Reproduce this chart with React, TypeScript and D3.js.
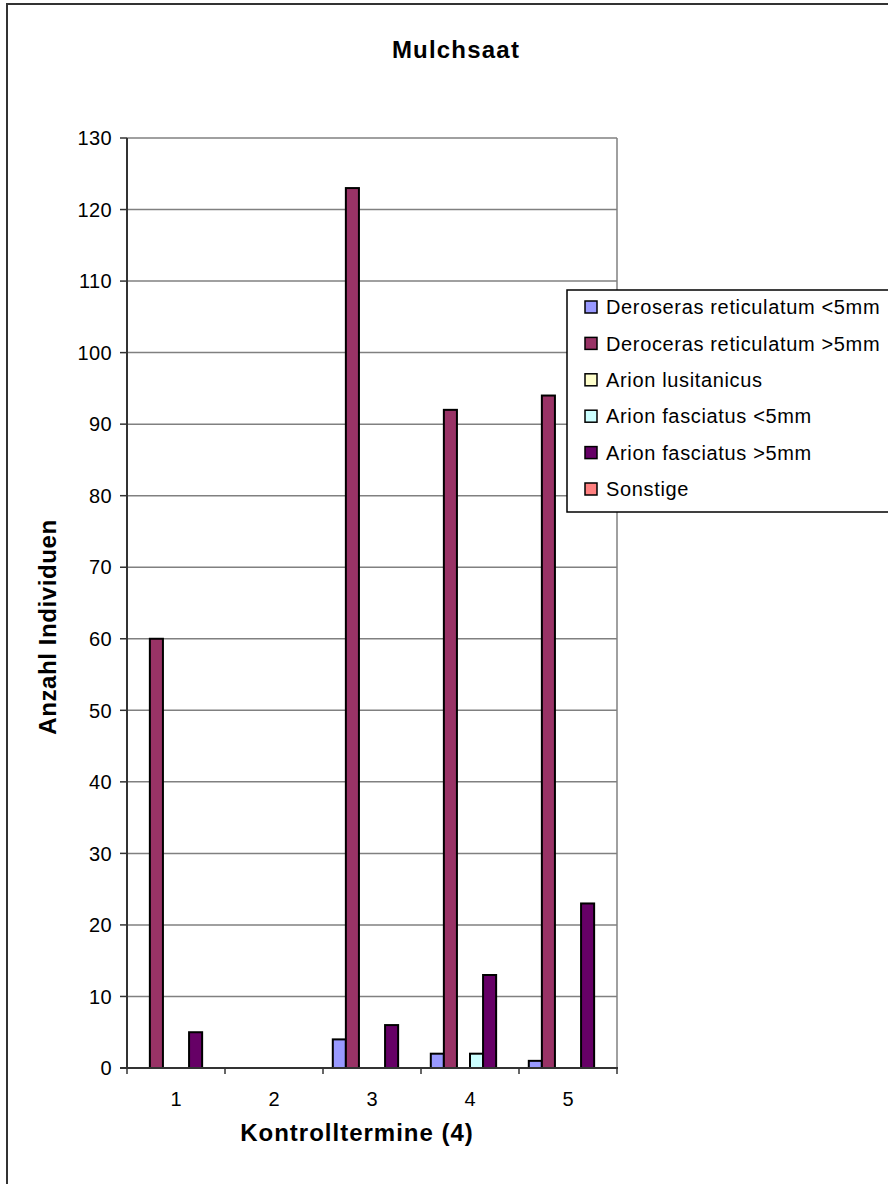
import React from "react";
import * as d3 from "d3";

const categories = ["1", "2", "3", "4", "5"];
const seriesNames = [
  "Deroseras reticulatum <5mm",
  "Deroceras reticulatum >5mm",
  "Arion lusitanicus",
  "Arion fasciatus <5mm",
  "Arion fasciatus >5mm",
  "Sonstige",
];
const deroserasSmall = [0, 0, 4, 2, 1];
const derocerasLarge = [60, 0, 123, 92, 94];
const arionLusitanicus = [0, 0, 0, 0, 0];
const arionFasciatusSmall = [0, 0, 0, 2, 0];
const arionFasciatusLarge = [5, 0, 6, 13, 23];
const sonstige = [0, 0, 0, 0, 0];
const seriesColors = ["#9999FF", "#993366", "#FFFFCC", "#CCFFFF", "#660066", "#FF8080"];
const yTicks = [0, 10, 20, 30, 40, 50, 60, 70, 80, 90, 100, 110, 120, 130];

const seriesValues = [
  deroserasSmall,
  derocerasLarge,
  arionLusitanicus,
  arionFasciatusSmall,
  arionFasciatusLarge,
  sonstige,
];

const FONT = "'Liberation Sans', Arial, sans-serif";

export default function App() {
  const left = 127, right = 617, top = 138, bottom = 1068;
  const x0 = d3.scaleBand<string>().domain(categories).range([left, right]).padding(0);
  const x1 = d3
    .scaleBand<string>()
    .domain(seriesNames)
    .range([0, x0.bandwidth()])
    .paddingInner(0)
    .paddingOuter(0.75);
  const y = d3.scaleLinear().domain([0, 130]).range([bottom, top]);

  const legendTop = 290;
  const legendStep = 36.4;

  return (
    <svg
      width={888}
      height={1184}
      style={{ position: "absolute", left: 0, top: 0, background: "#fff" }}
      fontFamily={FONT}
    >
      <rect x={0} y={0} width={888} height={1184} fill="#fff" />
      {/* outer frame */}
      <rect x={7} y={4} width={1000} height={1300} fill="none" stroke="#333" strokeWidth={2} />

      {/* title */}
      <text x={456} y={58} textAnchor="middle" fontSize={24} fontWeight="bold" letterSpacing={1.2} fill="#000">
        Mulchsaat
      </text>

      {/* gridlines */}
      {yTicks.map((t) => (
        <line key={"g" + t} x1={left} x2={right} y1={y(t)} y2={y(t)} stroke="#808080" strokeWidth={1.5} />
      ))}
      {/* plot right border */}
      <line x1={right} x2={right} y1={top} y2={bottom} stroke="#808080" strokeWidth={1.5} />

      {/* bars */}
      {categories.map((c, ci) =>
        seriesNames.map((s, si) => {
          const v = seriesValues[si][ci];
          if (!v) return null;
          const bx = (x0(c) as number) + (x1(s) as number);
          return (
            <rect
              key={c + s}
              x={bx}
              y={y(v)}
              width={x1.bandwidth()}
              height={y(0) - y(v)}
              fill={seriesColors[si]}
              stroke="#000"
              strokeWidth={2}
            />
          );
        })
      )}

      {/* axes */}
      <line x1={left} x2={left} y1={top} y2={bottom} stroke="#333" strokeWidth={2} />
      <line x1={left - 7} x2={right + 1} y1={bottom} y2={bottom} stroke="#333" strokeWidth={2} />
      {yTicks.map((t) => (
        <g key={"yt" + t}>
          <line x1={left - 7} x2={left} y1={y(t)} y2={y(t)} stroke="#333" strokeWidth={1.5} />
          <text x={112} y={y(t)} dy="0.36em" textAnchor="end" fontSize={20} letterSpacing={0.4} fill="#000">
            {t}
          </text>
        </g>
      ))}
      {[...categories.map((c) => x0(c) as number), right].map((xv, i) => (
        <line key={"xt" + i} x1={xv} x2={xv} y1={bottom} y2={bottom + 6} stroke="#333" strokeWidth={1.5} />
      ))}
      {categories.map((c) => (
        <text
          key={"xl" + c}
          x={(x0(c) as number) + x0.bandwidth() / 2}
          y={1106}
          textAnchor="middle"
          fontSize={20}
          fill="#000"
        >
          {c}
        </text>
      ))}

      {/* axis titles */}
      <text x={357} y={1141} textAnchor="middle" fontSize={24} fontWeight="bold" letterSpacing={1} fill="#000">
        Kontrolltermine (4)
      </text>
      <text
        transform={`translate(56,627) rotate(-90)`}
        textAnchor="middle"
        fontSize={24}
        fontWeight="bold"
        letterSpacing={0.6}
        fill="#000"
      >
        Anzahl Individuen
      </text>

      {/* legend */}
      <rect x={567} y={legendTop} width={340} height={222} fill="#fff" stroke="#000" strokeWidth={1.5} />
      {seriesNames.map((s, i) => {
        const cy = 307 + i * legendStep;
        return (
          <g key={"lg" + s}>
            <rect x={585} y={cy - 6} width={12} height={12} fill={seriesColors[i]} stroke="#000" strokeWidth={1.5} />
            <text x={606} y={cy} dy="0.36em" fontSize={20} letterSpacing={0.65} fill="#000">
              {s}
            </text>
          </g>
        );
      })}
    </svg>
  );
}
